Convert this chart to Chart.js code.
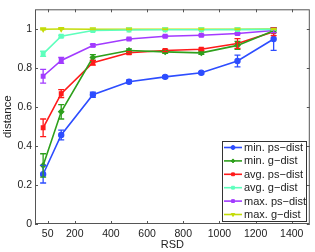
<!DOCTYPE html>
<html>
<head>
<meta charset="utf-8">
<script src="https://cdn.jsdelivr.net/npm/chart.js@4/dist/chart.umd.min.js"></script>
<style>
  html, body { margin: 0; padding: 0; background: #fff; }
  #wrap { width: 315px; height: 252px; }
</style>
</head>
<body>
<div id="wrap"><canvas id="chart" width="315" height="252"></canvas></div>
<script>
// ---- data ----
const RSD = [25, 125, 300, 500, 700, 900, 1100, 1300];

const MIN_PS     = [0.255, 0.456, 0.662, 0.729, 0.754, 0.775, 0.835, 0.948];
const MIN_PS_ERR = [0.045, 0.025, 0.013, 0.008, 0.006, 0.006, 0.030, 0.058];
const MIN_G      = [0.300, 0.575, 0.853, 0.889, 0.882, 0.877, 0.915, 0.990];
const MIN_G_ERR  = [0.060, 0.037, 0.015, 0.008, 0.008, 0.008, 0.020, 0.010];
const AVG_PS     = [0.493, 0.668, 0.826, 0.877, 0.889, 0.895, 0.925, 0.985];
const AVG_PS_ERR = [0.045, 0.020, 0.012, 0.006, 0.006, 0.006, 0.025, 0.020];
const AVG_G      = [0.872, 0.962, 0.991, 0.994, 0.995, 0.995, 0.996, 0.997];
const AVG_G_ERR  = [0.013, 0.005, 0.003, 0.002, 0.002, 0.002, 0.002, 0.003];
const MAX_PS     = [0.757, 0.838, 0.915, 0.948, 0.962, 0.967, 0.976, 0.991];
const MAX_PS_ERR = [0.035, 0.015, 0.006, 0.004, 0.004, 0.004, 0.005, 0.010];
const MAX_G      = [0.998, 0.999, 0.998, 0.998, 0.998, 0.998, 0.998, 0.999];
const MAX_G_ERR  = [0.003, 0.002, 0.002, 0.002, 0.002, 0.002, 0.002, 0.003];

const X_TICKS = [50, 200, 400, 600, 800, 1000, 1200, 1400];
const Y_TICKS = [0, 0.2, 0.4, 0.6, 0.8, 1];

const FONT = 'Liberation Sans, Arial, sans-serif';

function series(label, values, errors, color, style, rotation) {
    return {
        label,
        data: RSD.map((x, i) => ({ x, y: values[i] })),
        errors,
        borderColor: color,
        backgroundColor: color,
        borderWidth: 1.6,
        pointStyle: style,
        pointRotation: rotation || 0,
        pointRadius: 2.6,
        pointBorderWidth: 1.2,
        tension: 0,
    };
}

const datasets = [
    series('min. ps\u2212dist', MIN_PS, MIN_PS_ERR, '#2d4dff', 'circle'),
    series('min. g\u2212dist',  MIN_G,  MIN_G_ERR,  '#2ea01c', 'rectRot'),
    series('avg. ps\u2212dist', AVG_PS, AVG_PS_ERR, '#ff1a1a', 'rect'),
    series('avg. g\u2212dist',  AVG_G,  AVG_G_ERR,  '#5effbd', 'rect'),
    series('max. ps\u2212dist', MAX_PS, MAX_PS_ERR, '#a23bff', 'rect'),
    series('max. g\u2212dist',  MAX_G,  MAX_G_ERR,  '#c4dc08', 'triangle', 180),
];

// error bars, inward ticks, box and legend
const matlabLook = {
    id: 'matlabLook',
    afterDatasetsDraw(chart) {
        const { ctx, scales: { x, y } } = chart;
        ctx.save();
        chart.data.datasets.forEach(ds => {
            ctx.strokeStyle = ds.borderColor;
            ctx.lineWidth = 1.3;
            ds.data.forEach((p, i) => {
                const e = ds.errors[i];
                const px = x.getPixelForValue(p.x);
                const top = y.getPixelForValue(p.y + e);
                const bot = y.getPixelForValue(p.y - e);
                ctx.beginPath();
                ctx.moveTo(px, top); ctx.lineTo(px, bot);
                ctx.moveTo(px - 3, top); ctx.lineTo(px + 3, top);
                ctx.moveTo(px - 3, bot); ctx.lineTo(px + 3, bot);
                ctx.stroke();
            });
        });
        ctx.restore();
    },
    afterDraw(chart) {
        const { ctx, chartArea: a, scales: { x, y } } = chart;
        ctx.save();
        ctx.strokeStyle = '#555';
        ctx.lineWidth = 1;
        ctx.strokeRect(a.left + 0.5, a.top + 0.5, a.right - a.left - 1, a.bottom - a.top - 1);
        ctx.beginPath();
        X_TICKS.forEach(v => {
            const px = Math.round(x.getPixelForValue(v)) + 0.5;
            ctx.moveTo(px, a.bottom); ctx.lineTo(px, a.bottom - 3);
            ctx.moveTo(px, a.top); ctx.lineTo(px, a.top + 3);
        });
        Y_TICKS.forEach(v => {
            const py = Math.round(y.getPixelForValue(v)) + 0.5;
            ctx.moveTo(a.left, py); ctx.lineTo(a.left + 3, py);
            ctx.moveTo(a.right, py); ctx.lineTo(a.right - 3, py);
        });
        ctx.stroke();

        // legend box in the lower right
        const bx = 222, by = 141, bw = 84, bh = 80, row = 13.4;
        ctx.fillStyle = '#fff';
        ctx.fillRect(bx, by, bw, bh);
        ctx.strokeStyle = '#333';
        ctx.strokeRect(bx + 0.5, by + 0.5, bw, bh);
        ctx.font = '11px ' + FONT;
        ctx.textBaseline = 'middle';
        chart.data.datasets.forEach((ds, i) => {
            const cy = by + 6.5 + i * row;
            ctx.strokeStyle = ds.borderColor;
            ctx.fillStyle = ds.borderColor;
            ctx.lineWidth = 1.6;
            ctx.beginPath();
            ctx.moveTo(bx + 2, cy); ctx.lineTo(bx + 20, cy);
            ctx.stroke();
            ctx.lineWidth = 1;
            Chart.helpers.drawPoint(ctx, { pointStyle: ds.pointStyle, radius: 2, rotation: ds.pointRotation, borderWidth: 1 }, bx + 11, cy);
            ctx.fillStyle = '#222';
            ctx.fillText(ds.label, bx + 22, cy + 0.5);
        });
        ctx.restore();
    },
};

new Chart(document.getElementById('chart'), {
    type: 'line',
    data: { datasets },
    options: {
        responsive: false,
        animation: false,
        layout: { padding: { top: 7, right: 5, left: 0, bottom: 0 } },
        plugins: { legend: { display: false }, tooltip: { enabled: false } },
        scales: {
            x: {
                type: 'linear',
                min: -20,
                max: 1500,
                afterBuildTicks: s => { s.ticks = X_TICKS.map(v => ({ value: v })); },
                afterFit: s => { s.height = 28; },
                grid: { display: false, drawTicks: false, tickLength: 0 },
                border: { display: false },
                ticks: { color: '#222', font: { family: FONT, size: 10.5 }, padding: 4, maxRotation: 0, autoSkip: false, callback: v => String(v) },
                title: { display: true, text: 'RSD', color: '#222', font: { family: FONT, size: 11 }, padding: { top: 0, bottom: 0 } },
            },
            y: {
                min: 0,
                max: 1.1,
                afterBuildTicks: s => { s.ticks = Y_TICKS.map(v => ({ value: v })); },
                afterFit: s => { s.width = 35; },
                grid: { display: false, drawTicks: false, tickLength: 0 },
                border: { display: false },
                ticks: { color: '#222', font: { family: FONT, size: 10.5 }, padding: 3, callback: v => String(v) },
                title: { display: true, text: 'distance', color: '#222', font: { family: FONT, size: 11.5 }, padding: { top: 1, bottom: 0 } },
            },
        },
    },
    plugins: [matlabLook],
});
</script>
</body>
</html>
